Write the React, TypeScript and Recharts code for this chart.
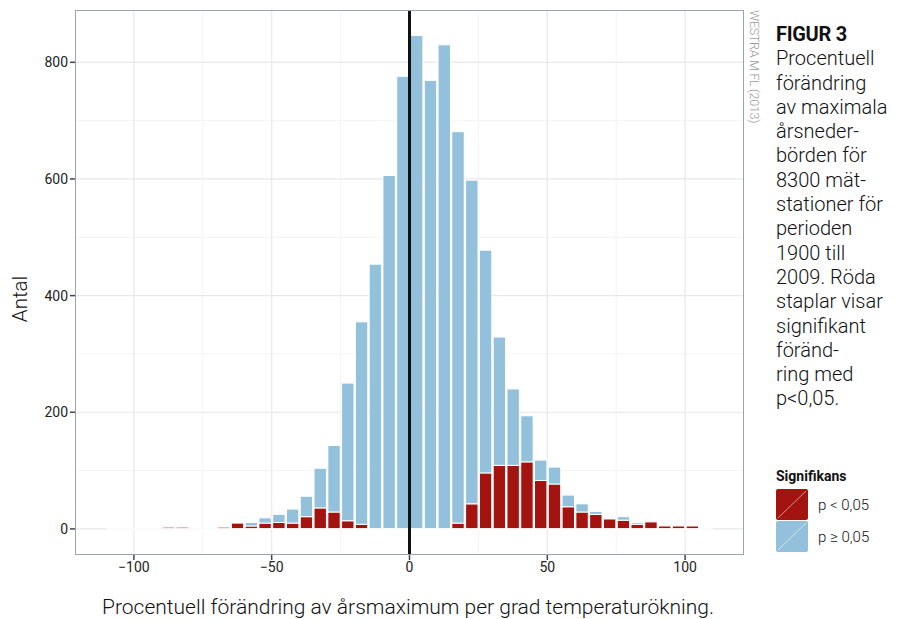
import React from 'react';
import { ComposedChart, Bar, XAxis, YAxis, CartesianGrid, ReferenceLine } from 'recharts';

// Bin start values (bin width 5)
const binStarts = [-90, -85, -80, -75, -70, -65, -60, -55, -50, -45, -40, -35, -30, -25, -20, -15, -10, -5, 0, 5, 10, 15, 20, 25, 30, 35, 40, 45, 50, 55, 60, 65, 70, 75, 80, 85, 90, 95, 100];
// p < 0,05 (significant)
const sigCounts = [3, 3, 0, 0, 3, 10, 5, 10, 11, 10, 21, 36, 29, 14, 8, 0, 0, 0, 0, 0, 0, 10, 43, 96, 109, 109, 115, 83, 77, 38, 29, 25, 17, 15, 8, 12, 5, 5, 5];
// p >= 0,05 (not significant)
const nonSigCounts = [0, 0, 0, 0, 0, 0, 6, 9, 14, 24, 35, 68, 114, 236, 347, 454, 606, 776, 846, 769, 830, 671, 555, 382, 220, 131, 79, 35, 29, 20, 14, 5, 0, 6, 3, 0, 0, 0, 0];

const xTicks = [-100, -50, 0, 50, 100];
const xMinor = [-75, -25, 25, 75];
const yTicks = [0, 200, 400, 600, 800];
const yMinor = [100, 300, 500, 700];

const captionLines = ['Procentuell', 'förändring', 'av maximala', 'årsneder-', 'börden för', '8300 mät-', 'stationer för', 'perioden', '1900 till', '2009. Röda', 'staplar visar', 'signifikant', 'föränd-', 'ring med', 'p<0,05.'];

const BIN = 5;
const X_MIN = -121;
const X_MAX = 121;
const Y_MIN = -43;
const Y_MAX = 888;

const W = 909;
const H = 619;
const M = { top: 11, right: 166, bottom: 35, left: 26 };
const Y_AXIS_W = 50;
const X_AXIS_H = 30;
const PLOT_W = W - M.left - M.right - Y_AXIS_W;

const RED = '#a3130f';
const BLUE = '#93c0da';
const FONT = 'Roboto, "Liberation Sans", sans-serif';

const data = binStarts.map((s, i) => ({ x: s + BIN / 2, sig: sigCounts[i], nonsig: nonSigCounts[i] }));

const fmt = (v: number) => String(v).replace('-', '\u2212');

function Swatch({ color }: { color: string }) {
  return (
    <svg width={32} height={31} style={{ display: 'block' }}>
      <rect x={0} y={0} width={32} height={31} rx={2} fill={color} />
      <line x1={2} y1={29} x2={30} y2={2} stroke="rgba(255,255,255,0.55)" strokeWidth={1} />
    </svg>
  );
}

export default function App() {
  const barSize = (BIN * PLOT_W) / (X_MAX - X_MIN);
  return (
    <div style={{ position: 'absolute', left: 0, top: 0, width: W, height: H, background: '#fff', fontFamily: FONT, overflow: 'hidden' }}>
      <ComposedChart width={W} height={H} data={data} margin={M} barGap={0} barCategoryGap={0}>
        <CartesianGrid stroke="#f4f4f4" strokeWidth={1} horizontalValues={yMinor} verticalValues={xMinor} />
        <CartesianGrid stroke="#e6e8e9" strokeWidth={1.2} horizontalValues={yTicks} verticalValues={xTicks} />
        <XAxis
          type="number"
          dataKey="x"
          domain={[X_MIN, X_MAX]}
          allowDataOverflow
          ticks={xTicks}
          tickFormatter={fmt}
          height={X_AXIS_H}
          axisLine={false}
          tickSize={6}
          tickLine={{ stroke: '#444', strokeWidth: 1.5 }}
          tick={{ fill: '#222', fontSize: 14, fontFamily: FONT }}
        />
        <YAxis
          type="number"
          domain={[Y_MIN, Y_MAX]}
          allowDataOverflow
          ticks={yTicks}
          width={Y_AXIS_W}
          axisLine={false}
          tickSize={6}
          tickLine={{ stroke: '#444', strokeWidth: 1.5 }}
          tick={{ fill: '#222', fontSize: 14, fontFamily: FONT }}
        />
        <Bar dataKey="sig" stackId="a" fill={RED} stroke="#fff" strokeWidth={1} barSize={barSize} isAnimationActive={false} />
        <Bar dataKey="nonsig" stackId="a" fill={BLUE} stroke="#fff" strokeWidth={1} barSize={barSize} isAnimationActive={false} />
        <ReferenceLine segment={[{ x: -110, y: 0 }, { x: 110, y: 0 }]} stroke="#fff" strokeWidth={1.5} />
        <ReferenceLine x={0} stroke="#111" strokeWidth={3} />
      </ComposedChart>

      {/* panel border */}
      <div style={{ position: 'absolute', left: M.left + Y_AXIS_W - 1, top: M.top - 1, width: PLOT_W, height: H - M.top - M.bottom - X_AXIS_H, border: '1.5px solid #9ba5a8', pointerEvents: 'none' }} />

      {/* y label */}
      <div style={{ position: 'absolute', left: 20, top: 299, transform: 'translate(-50%, -50%) rotate(-90deg)', fontSize: 20.5, fontWeight: 300, color: '#111', whiteSpace: 'nowrap' }}>Antal</div>

      {/* x label */}
      <div style={{ position: 'absolute', left: 408, top: 595, transform: 'translateX(-50%)', fontSize: 21, fontWeight: 300, color: '#111', whiteSpace: 'nowrap', lineHeight: '24px' }}>
        Procentuell förändring av årsmaximum per grad temperaturökning.
      </div>

      {/* source */}
      <div style={{ position: 'absolute', left: 747, top: 10, writingMode: 'vertical-rl', fontSize: 12.5, fontWeight: 300, color: '#9a9a9a', whiteSpace: 'nowrap', letterSpacing: -0.3 }}>
        WESTRA M FL (2013)
      </div>

      {/* caption */}
      <div style={{ position: 'absolute', left: 776, top: 22, fontSize: 20, fontWeight: 300, lineHeight: '24.3px', color: '#111' }}>
        <div style={{ fontWeight: 700, letterSpacing: -0.3 }}>FIGUR 3</div>
        {captionLines.map((l, i) => (
          <div key={i}>{l}</div>
        ))}
      </div>

      {/* legend */}
      <div style={{ position: 'absolute', left: 776, top: 468, fontSize: 14, color: '#111' }}>
        <div style={{ fontWeight: 700, marginBottom: 4 }}>Signifikans</div>
        <div style={{ display: 'flex', alignItems: 'center', height: 33 }}>
          <Swatch color={RED} />
          <span style={{ marginLeft: 10, fontWeight: 300, fontSize: 15 }}>p &lt; 0,05</span>
        </div>
        <div style={{ display: 'flex', alignItems: 'center', height: 31 }}>
          <Swatch color={BLUE} />
          <span style={{ marginLeft: 10, fontWeight: 300, fontSize: 15 }}>p ≥ 0,05</span>
        </div>
      </div>
    </div>
  );
}
